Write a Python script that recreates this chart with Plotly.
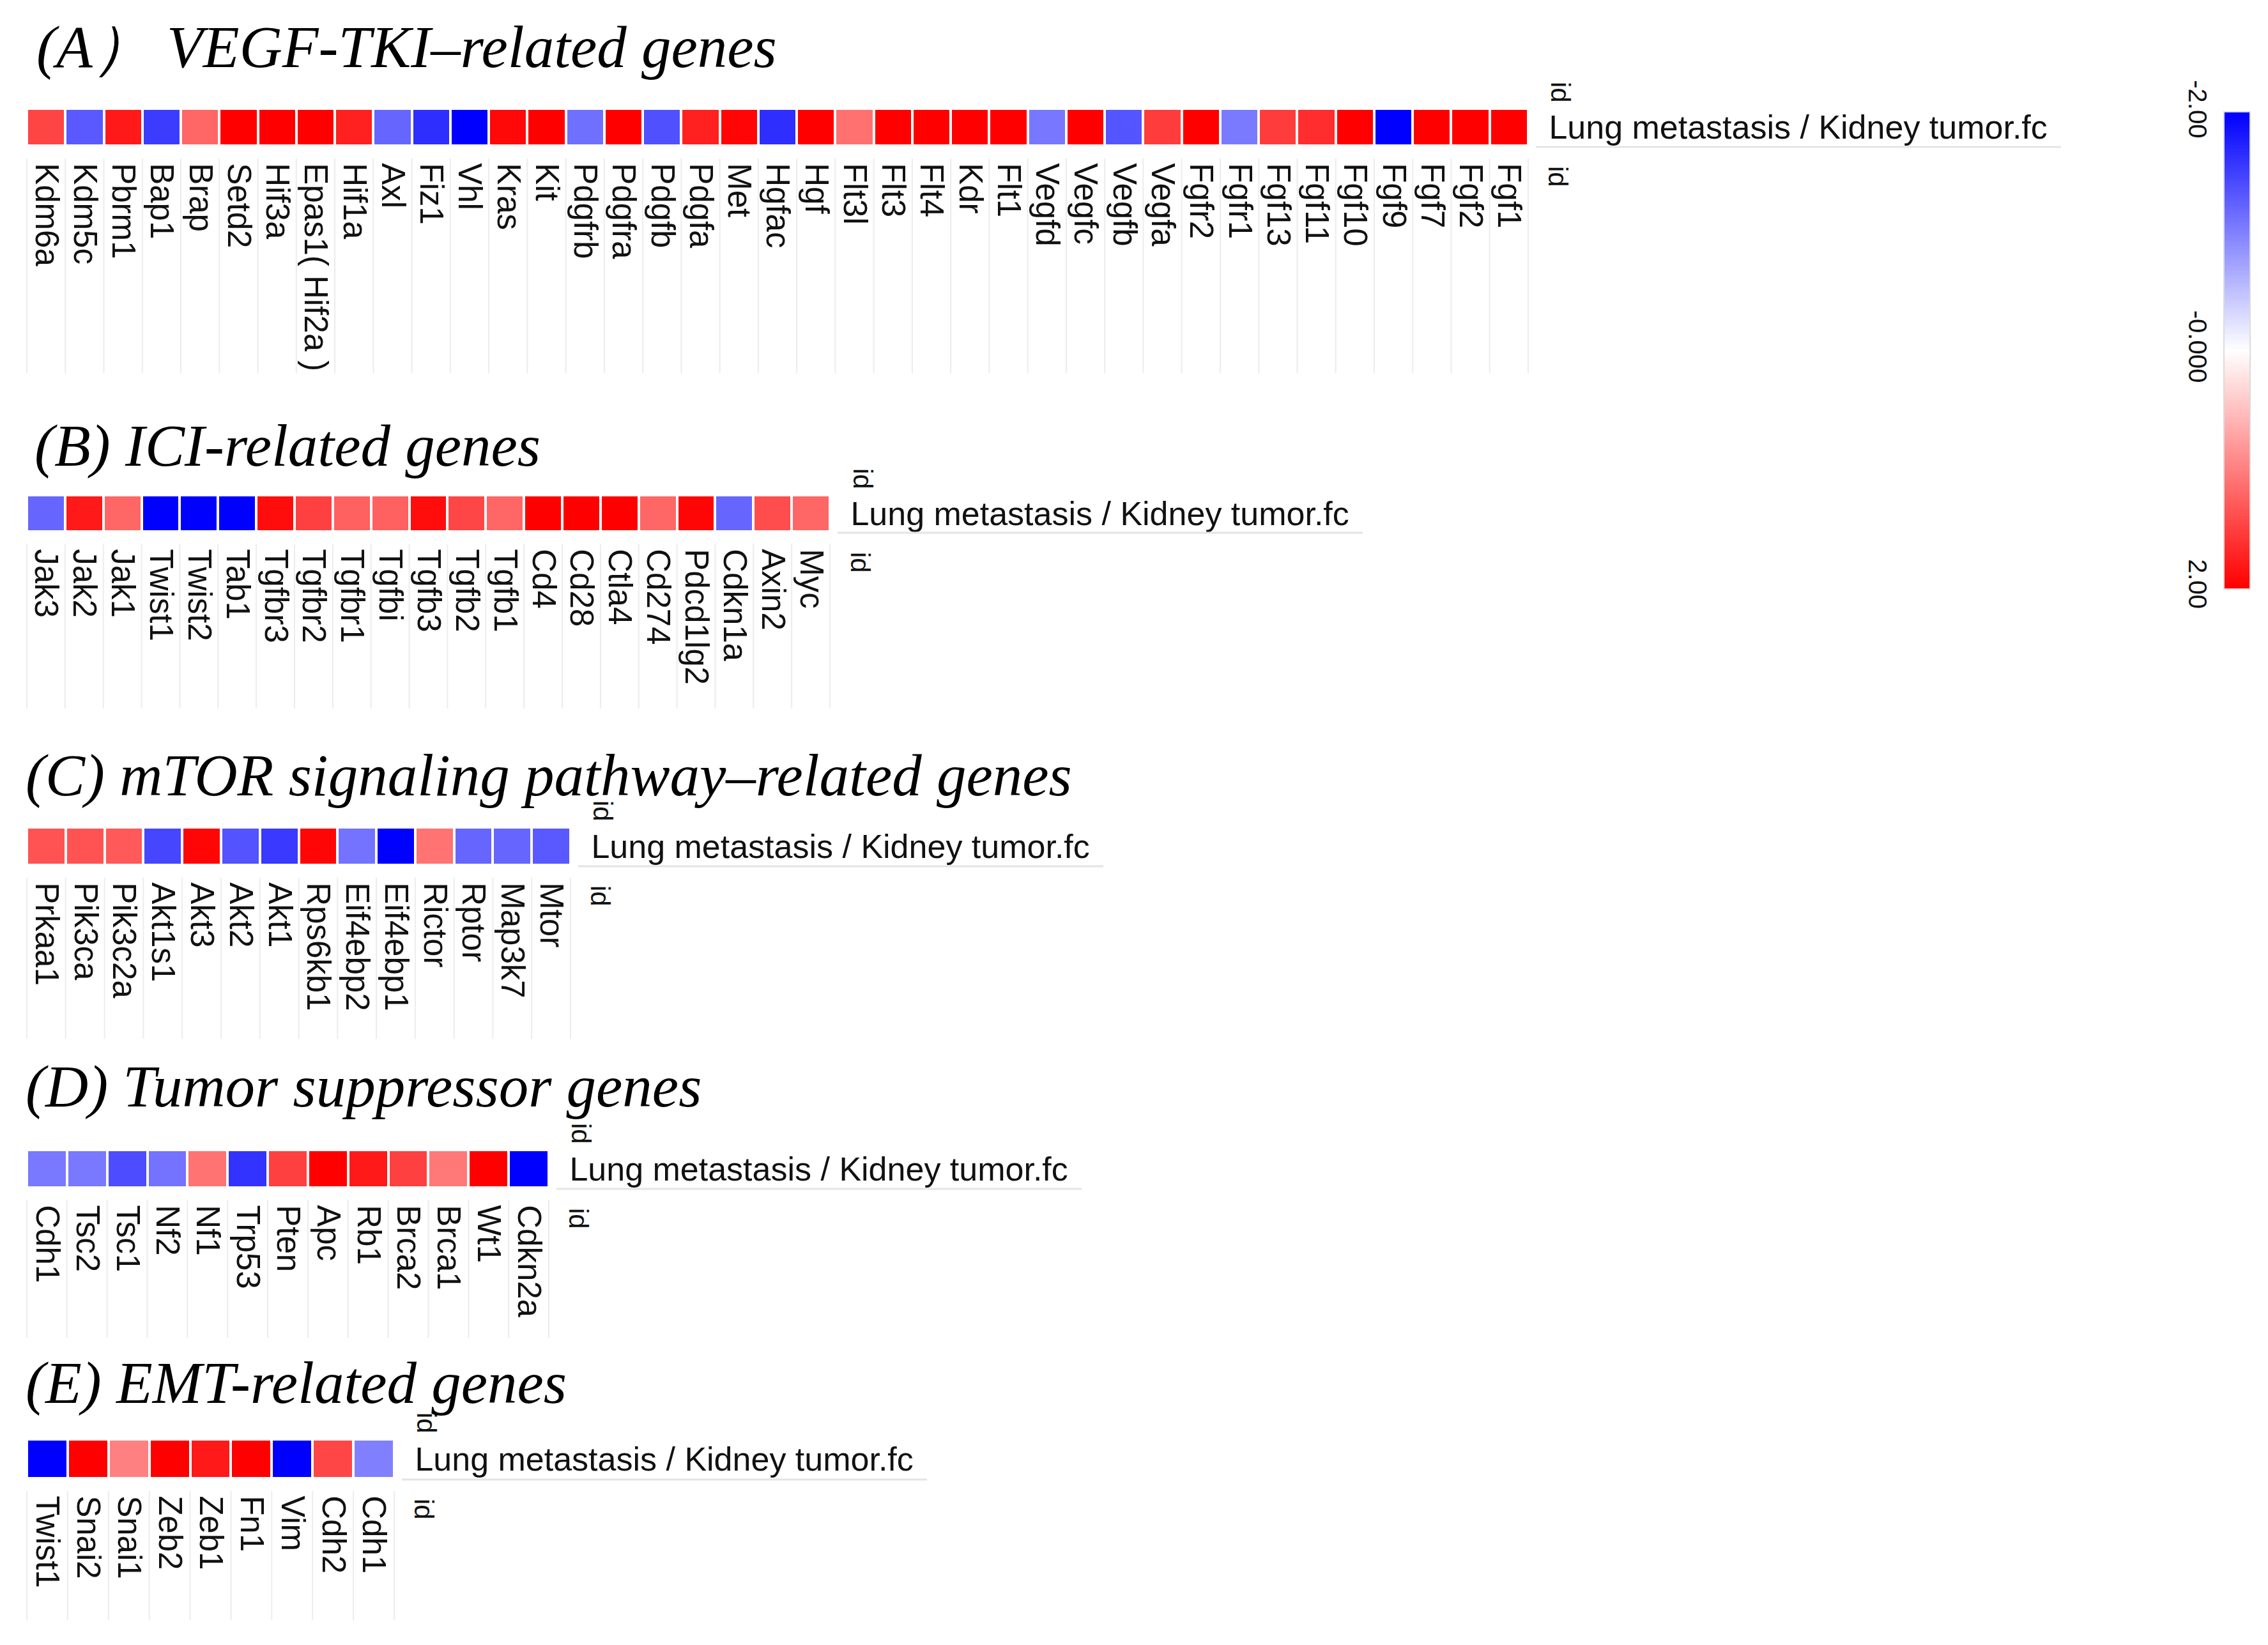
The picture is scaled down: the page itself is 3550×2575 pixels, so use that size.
import numpy as np
import plotly.graph_objects as go

# page size and the browser's default body margin
PAGE_W, PAGE_H, BODY = 3550, 2575, 8
W, H = PAGE_W - 2 * BODY, PAGE_H - 2 * BODY

ROW_LABEL = "Lung metastasis / Kidney tumor.fc"

# ---- data: log fold change, lung metastasis vs kidney tumor ----
vegf_genes = ["Kdm6a", "Kdm5c", "Pbrm1", "Bap1", "Brap", "Setd2", "Hif3a", "Epas1( Hif2a )", "Hif1a",
              "Axl", "Fiz1", "Vhl", "Kras", "Kit", "Pdgfrb", "Pdgfra", "Pdgfb", "Pdgfa", "Met", "Hgfac",
              "Hgf", "Flt3l", "Flt3", "Flt4", "Kdr", "Flt1", "Vegfd", "Vegfc", "Vegfb", "Vegfa", "Fgfr2",
              "Fgfr1", "Fgf13", "Fgf11", "Fgf10", "Fgf9", "Fgf7", "Fgf2", "Fgf1"]
vegf_fc = [1.47, -1.3, 1.8, -1.53, 1.2, 2.0, 2.0, 2.0, 1.75,
           -1.2, -1.64, -2.0, 1.94, 2.0, -1.12, 2.0, -1.37, 1.75, 1.96, -1.64,
           2.0, 1.12, 2.0, 2.0, 2.0, 2.0, -1.07, 2.0, -1.33, 1.53, 2.0,
           -1.04, 1.53, 1.65, 2.0, -2.0, 2.0, 2.0, 2.0]

ici_genes = ["Jak3", "Jak2", "Jak1", "Twist1", "Twist2", "Tab1", "Tgfbr3", "Tgfbr2", "Tgfbr1", "Tgfbi",
             "Tgfb3", "Tgfb2", "Tgfb1", "Cd4", "Cd28", "Ctla4", "Cd274", "Pdcd1lg2", "Cdkn1a", "Axin2", "Myc"]
ici_fc = [-1.2, 1.8, 1.2, -2.0, -2.0, -2.0, 1.9, 1.5, 1.25, 1.25,
          1.9, 1.45, 1.2, 2.0, 2.0, 2.0, 1.2, 1.95, -1.2, 1.4, 1.2]

mtor_genes = ["Prkaa1", "Pik3ca", "Pik3c2a", "Akt1s1", "Akt3", "Akt2", "Akt1", "Rps6kb1", "Eif4ebp2",
              "Eif4ebp1", "Rictor", "Rptor", "Map3k7", "Mtor"]
mtor_fc = [1.35, 1.35, 1.3, -1.45, 1.95, -1.35, -1.55, 1.95, -1.1, -2.0, 1.1, -1.2, -1.2, -1.3]

tsg_genes = ["Cdh1", "Tsc2", "Tsc1", "Nf2", "Nf1", "Trp53", "Pten", "Apc", "Rb1", "Brca2", "Brca1", "Wt1", "Cdkn2a"]
tsg_fc = [-1.05, -1.05, -1.4, -1.1, 1.1, -1.6, 1.5, 2.0, 1.8, 1.5, 1.05, 2.0, -2.0]

emt_genes = ["Twist1", "Snai2", "Snai1", "Zeb2", "Zeb1", "Fn1", "Vim", "Cdh2", "Cdh1"]
emt_fc = [-2.0, 2.0, 1.0, 2.0, 1.8, 2.0, -2.0, 1.45, -1.0]

panel_titles = ["<i>(A） VEGF-TKI–related genes</i>", "<i>(B) ICI-related genes</i>",
                "<i>(C) mTOR signaling pathway–related genes</i>", "<i>(D) Tumor suppressor genes</i>",
                "<i>(E) EMT-related genes</i>"]
panel_genes = [vegf_genes, ici_genes, mtor_genes, tsg_genes, emt_genes]
panel_fc = [vegf_fc, ici_fc, mtor_fc, tsg_fc, emt_fc]

colorbar_ticks = [-2, 0, 2]
colorbar_ticktext = ["-2.00", "-0.000", "2.00"]

# page pixels: cell left, cell right, cell top, cell bottom, label-area bottom, title centre y, title left
panel_boxes = [
    (41, 2393, 172, 226, 584, 73, 55),
    (41, 1300, 777, 830, 1109, 697, 52),
    (41, 894, 1297, 1352, 1626, 1213, 38),
    (41, 860, 1802, 1857, 2094, 1700, 38),
    (41, 618, 2255, 2312, 2536, 2164, 38),
]

colorscale = [[0, "#0000ff"], [0.5, "#ffffff"], [1, "#ff0000"]]
sans = "Arial, Liberation Sans, Helvetica, sans-serif"
serif = "Times New Roman, Liberation Serif, serif"


def px(x):
    return (x - BODY) / W


def py(y):
    return 1 - (y - BODY) / H


fig = go.Figure()
axes = {}
annotations = []
shapes = []

for i, (title, genes, fc, box) in enumerate(zip(panel_titles, panel_genes, panel_fc, panel_boxes), start=1):
    x0, x1, y0, y1, grid_bottom, title_y, title_x = box
    xr = "x" if i == 1 else f"x{i}"
    yr = "y" if i == 1 else f"y{i}"
    sfx = "" if i == 1 else str(i)

    fig.add_trace(go.Heatmap(
        z=[fc], x=genes, y=[ROW_LABEL], xaxis=xr, yaxis=yr,
        zmin=-2, zmax=2, colorscale=colorscale, showscale=False, xgap=4,
        hovertemplate="%{x}: %{z:.2f}<extra></extra>",
    ))

    axes[f"xaxis{sfx}"] = dict(
        domain=[px(x0), px(x1)], anchor=yr, type="category", tickangle=90,
        tickmode="array", tickvals=genes, ticktext=genes,
        tickfont=dict(family=sans, size=51, color="#111111"),
        ticks="outside", ticklen=18, tickcolor="rgba(0,0,0,0)", automargin=False,
        showgrid=False, zeroline=False, showline=False, fixedrange=True,
    )
    axes[f"yaxis{sfx}"] = dict(
        domain=[py(y1), py(y0)], anchor=xr, side="right", type="category",
        tickfont=dict(family=sans, size=52, color="#111111"),
        ticks="outside", ticklen=20, tickcolor="rgba(0,0,0,0)", automargin=False,
        showgrid=False, zeroline=False, showline=False, fixedrange=True,
    )

    # light separators in the label area
    for k in range(len(genes) + 1):
        shapes.append(dict(type="line", xref=xr, yref="paper", x0=k - 0.5, x1=k - 0.5,
                           y0=py(y1 + 22), y1=py(grid_bottom), line=dict(color="#ececec", width=2)))
    shapes.append(dict(type="line", xref="paper", yref="paper", x0=px(x1 + 11), x1=px(x1 + 833),
                       y0=py(y1 + 4), y1=py(y1 + 4), line=dict(color="#e4e4e4", width=3)))

    for xx, yy in ((x1 + 50, y0 - 28), (x1 + 46, y1 + 50)):
        annotations.append(dict(text="id", textangle=90, xref="paper", yref="paper",
                                x=px(xx), y=py(yy), xanchor="center", yanchor="middle",
                                showarrow=False, font=dict(family=sans, size=42, color="#111111")))

    annotations.append(dict(text=title, xref="paper", yref="paper", x=px(title_x), y=py(title_y),
                            xanchor="left", yanchor="middle", showarrow=False,
                            font=dict(family=serif, size=93, color="#000000")))

# colour key, blue (-2) on top, red (+2) at the bottom
cb_levels = np.linspace(-2, 2, 201)
fig.add_trace(go.Heatmap(
    z=[[v] for v in cb_levels], x=[0], y=cb_levels, xaxis="x6", yaxis="y6",
    zmin=-2, zmax=2, colorscale=colorscale, showscale=False, hoverinfo="skip",
))
axes["xaxis6"] = dict(domain=[px(3481), px(3522)], anchor="y6", range=[-0.5, 0.5], automargin=False,
                      showticklabels=False, showgrid=False, zeroline=False, fixedrange=True)
axes["yaxis6"] = dict(domain=[py(922), py(175)], anchor="x6", range=[2.01, -2.01], side="left",
                      tickvals=colorbar_ticks, ticktext=colorbar_ticktext, tickangle=90,
                      tickfont=dict(family=sans, size=40, color="#111111"), automargin=False,
                      ticks="outside", ticklen=6, tickcolor="rgba(0,0,0,0)",
                      showgrid=False, zeroline=False, fixedrange=True)
shapes.append(dict(type="rect", xref="paper", yref="paper", x0=px(3481), x1=px(3522),
                   y0=py(922), y1=py(175), line=dict(color="#dcdcdc", width=2)))

fig.update_layout(
    width=W, height=H,
    margin=dict(l=0, r=0, t=0, b=0, pad=0, autoexpand=False),
    paper_bgcolor="white", plot_bgcolor="white",
    showlegend=False,
    annotations=annotations,
    shapes=shapes,
    **axes,
)

fig.write_html("out.html")
